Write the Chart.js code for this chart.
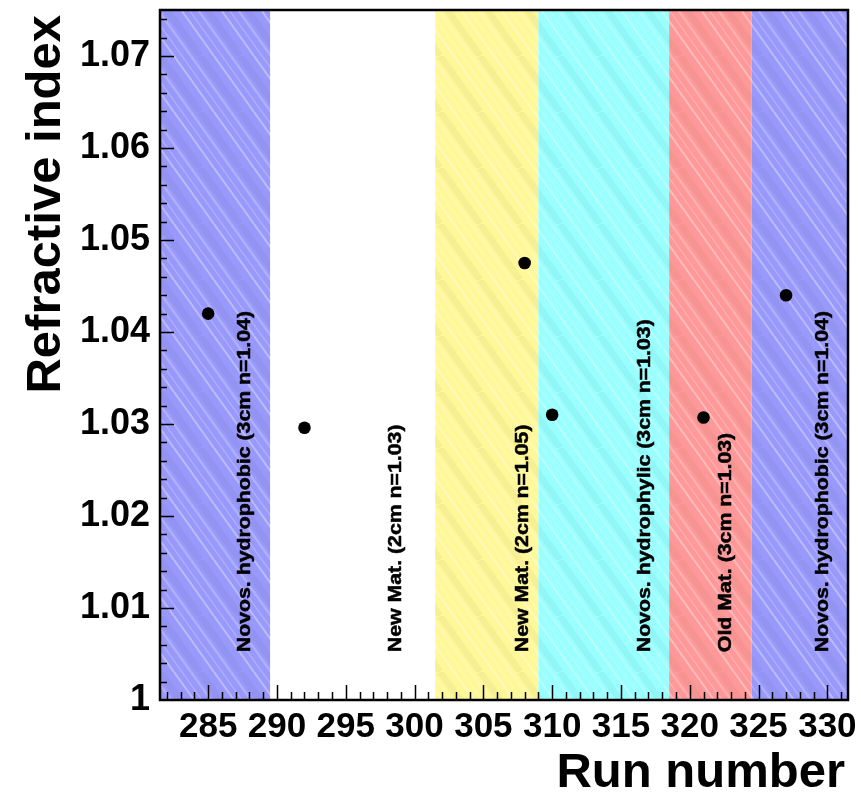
<!DOCTYPE html>
<html>
<head>
<meta charset="utf-8">
<script src="https://cdn.jsdelivr.net/npm/chart.js@4/dist/chart.umd.min.js"></script>
<style>
  html, body { margin: 0; padding: 0; background: #ffffff; }
  #wrap { width: 861px; height: 793px; position: relative; }
</style>
</head>
<body>
<div id="wrap"><canvas id="chart" width="861" height="793"></canvas></div>
<script>
// Measured refractive index per run
const runNumbers = [285, 292, 308, 310, 321, 327];
const refractiveIndex = [1.042, 1.0296, 1.0475, 1.031, 1.0307, 1.044];

// Aerogel periods: run ranges and the material installed in each
const periodEdges = [281.5, 289.5, 301.5, 309, 318.5, 324.5, 331.5];
const periodLabels = [
  'Novos. hydrophobic (3cm n=1.04)',
  'New Mat. (2cm n=1.03)',
  'New Mat. (2cm n=1.05)',
  'Novos. hydrophylic (3cm n=1.03)',
  'Old Mat. (3cm n=1.03)',
  'Novos. hydrophobic (3cm n=1.04)'
];

// Axis ticks
const xTickValues = [285, 290, 295, 300, 305, 310, 315, 320, 325, 330];
const yTickValues = [1, 1.01, 1.02, 1.03, 1.04, 1.05, 1.06, 1.07];
const yTickLabels = ['1', '1.01', '1.02', '1.03', '1.04', '1.05', '1.06', '1.07'];

const xTitle = 'Run number';
const yTitle = 'Refractive index';

// ---- styling ----
const FONT = '"Liberation Sans", Arial, Helvetica, sans-serif';
const periodFill = ['#9999fb', null, '#fff899', '#99ffff', '#ff9999', '#9999fb'];
const labelRunPos = [287.65, 298.65, 307.9, 316.7, 322.6, 329.7]; // run where each label column sits
const labelStartIndex = 1.0052;                                   // labels start just above the axis

function stripePattern(ctx, base) {
  const w = 40, h = 56;
  const c = document.createElement('canvas');
  c.width = w; c.height = h;
  const g = c.getContext('2d');
  g.fillStyle = base;
  g.fillRect(0, 0, w, h);
  const lines = [
    { o: 0,  lw: 7, col: 'rgba(0,0,0,0.035)' },
    { o: 14, lw: 2, col: 'rgba(255,255,255,0.35)' },
    { o: 22, lw: 1.2, col: 'rgba(255,255,255,0.25)' },
    { o: 31, lw: 2.5, col: 'rgba(255,255,255,0.22)' }
  ];
  for (const L of lines) {
    g.strokeStyle = L.col;
    g.lineWidth = L.lw;
    for (const dx of [-w, 0, w]) {
      g.beginPath();
      g.moveTo(L.o + dx, 0);
      g.lineTo(L.o + dx + w, h);
      g.stroke();
    }
  }
  return ctx.createPattern(c, 'repeat');
}

const periodPlugin = {
  id: 'periods',
  beforeDatasetsDraw(chart) {
    const { ctx, chartArea: a, scales: { x, y } } = chart;
    ctx.save();
    ctx.beginPath();
    ctx.rect(a.left, a.top, a.right - a.left, a.bottom - a.top);
    ctx.clip();
    for (let i = 0; i < periodLabels.length; i++) {
      const x0 = x.getPixelForValue(periodEdges[i]);
      const x1 = x.getPixelForValue(periodEdges[i + 1]);
      if (periodFill[i]) {
        ctx.fillStyle = stripePattern(ctx, periodFill[i]);
        ctx.fillRect(x0, a.top, x1 - x0, a.bottom - a.top);
      }
    }
    // rotated material labels
    ctx.fillStyle = '#000';
    ctx.strokeStyle = '#000';
    ctx.lineWidth = 0.5;
    ctx.font = 'bold 19px ' + FONT;
    ctx.textAlign = 'left';
    ctx.textBaseline = 'middle';
    for (let i = 0; i < periodLabels.length; i++) {
      ctx.save();
      ctx.translate(x.getPixelForValue(labelRunPos[i]), y.getPixelForValue(labelStartIndex));
      ctx.rotate(-Math.PI / 2);
      ctx.scale(1.12, 1);
      ctx.fillText(periodLabels[i], 0, 0);
      ctx.strokeText(periodLabels[i], 0, 0);
      ctx.restore();
    }
    ctx.restore();
  },
  afterDatasetsDraw(chart) {
    const { ctx, chartArea: a, scales: { x, y } } = chart;
    ctx.save();
    ctx.strokeStyle = '#000';
    // tick marks inside the frame
    ctx.lineWidth = 1.5;
    ctx.beginPath();
    for (let r = 282; r <= 331; r++) {
      const px = Math.round(x.getPixelForValue(r)) + 0.5;
      const len = (r % 5 === 0) ? 15 : 8;
      ctx.moveTo(px, a.bottom);
      ctx.lineTo(px, a.bottom - len);
    }
    for (let k = 1; k <= 37; k++) {
      const v = 1 + k * 0.002;
      const py = Math.round(y.getPixelForValue(v)) + 0.5;
      const len = (k % 5 === 0) ? 14 : 7;
      ctx.moveTo(a.left, py);
      ctx.lineTo(a.left + len, py);
    }
    ctx.stroke();
    // frame
    ctx.lineWidth = 2.5;
    ctx.strokeRect(a.left, a.top, a.right - a.left, a.bottom - a.top);
    ctx.restore();
  },
  afterDraw(chart) {
    const { ctx, chartArea: a } = chart;
    ctx.save();
    ctx.fillStyle = '#000';
    ctx.font = 'bold 49px ' + FONT;
    ctx.textAlign = 'right';
    ctx.textBaseline = 'alphabetic';
    ctx.fillText(xTitle, a.right - 3, 787);
    ctx.save();
    ctx.translate(60, a.top + 5);
    ctx.rotate(-Math.PI / 2);
    ctx.textAlign = 'right';
    ctx.fillText(yTitle, 0, 0);
    ctx.restore();
    ctx.restore();
  }
};

new Chart(document.getElementById('chart'), {
  type: 'scatter',
  data: {
    datasets: [{
      data: runNumbers.map((r, i) => ({ x: r, y: refractiveIndex[i] })),
      backgroundColor: '#000',
      borderColor: '#000',
      borderWidth: 0,
      pointRadius: 6.3,
      pointHoverRadius: 6.3
    }]
  },
  options: {
    responsive: false,
    animation: false,
    events: [],
    layout: { padding: { top: 10, right: 13, left: 0, bottom: 0 } },
    plugins: { legend: { display: false }, tooltip: { enabled: false } },
    scales: {
      x: {
        type: 'linear',
        min: periodEdges[0],
        max: periodEdges[periodEdges.length - 1],
        afterBuildTicks: s => { s.ticks = xTickValues.map(v => ({ value: v })); },
        afterFit: s => { s.height = 93; s.paddingLeft = 0; s.paddingRight = 0; },
        grid: { display: false, drawTicks: false },
        border: { display: false },
        ticks: {
          autoSkip: false, maxRotation: 0, padding: 6, color: '#000',
          font: { family: FONT, size: 35, weight: 'bold' },
          callback: v => String(v)
        }
      },
      y: {
        type: 'linear',
        min: 1,
        max: 1.075,
        afterBuildTicks: s => { s.ticks = yTickValues.map(v => ({ value: v })); },
        afterFit: s => { s.width = 160; s.paddingTop = 0; s.paddingBottom = 0; },
        grid: { display: false, drawTicks: false },
        border: { display: false },
        ticks: {
          autoSkip: false, padding: 10, color: '#000',
          font: { family: FONT, size: 36, weight: 'bold' },
          callback: (v, i) => yTickLabels[i]
        }
      }
    }
  },
  plugins: [periodPlugin]
});
</script>
</body>
</html>
